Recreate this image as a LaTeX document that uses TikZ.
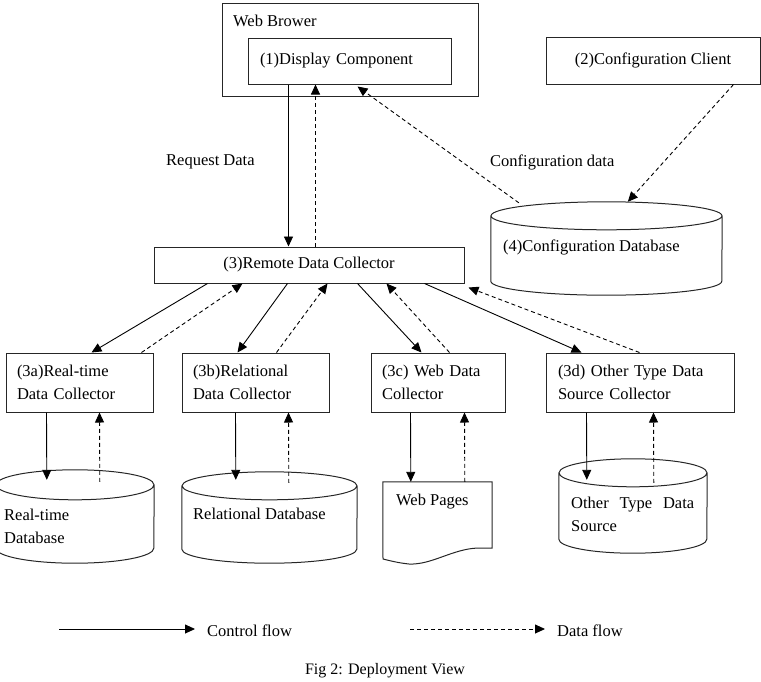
\documentclass[tikz,border=0pt]{standalone}
\usepackage{fontspec}
\setmainfont{Liberation Serif}
\usetikzlibrary{arrows.meta}
\newcommand\cylshape[3]{% node name, x radius, y radius
  \draw[cylline] ([yshift=-#3]#1.north) ellipse[x radius=#2, y radius=#3]
    ([yshift=-#3]#1.north west) -- ([yshift=#3]#1.south west)
    arc[start angle=180, end angle=360, x radius=#2, y radius=#3]
    -- ([yshift=-#3]#1.north east);}
\begin{document}
\begin{tikzpicture}[x=1pt,y=-1pt,
  every node/.style={font=\fontsize{16.5}{23}\selectfont},
  box/.style={draw=black!85, line width=1pt, rectangle, inner ysep=0pt},
  lbox/.style={box, align=left, inner xsep=#1},
  cylline/.style={draw=black!85, line width=1pt},
  holder/.style={inner sep=0pt, rectangle},
  lbl/.style={inner sep=0pt, anchor=west, align=left},
  ctrl/.style={line width=0.9pt, -{Triangle[length=10pt,width=9pt]}},
  dataf/.style={line width=0.9pt, dash pattern=on 4pt off 3pt, -{Triangle[length=10pt,width=9pt]}}]
\useasboundingbox (0,0) rectangle (761,681);

% top boxes
\node[box, minimum width=256pt, minimum height=93pt] (browser) at (350,49.5) {};
\node[lbl] (browsertxt) at (233,21) {Web Brower};
\node[lbox=12pt, text width=179pt, minimum height=46pt] (display) at (349.5,61) {(1)Display Component};
\node[box, align=center, minimum width=214pt, minimum height=47pt] (client) at (653,60.5) {(2)Configuration Client};

% config database
\node[holder, minimum width=231pt, minimum height=93pt] (cfgdb) at (606.5,248.5) {};
\cylshape{cfgdb}{115.5pt}{14pt}
\node[lbl] (cfgdbtxt) at (503,247) {(4)Configuration Database};

\node[lbl] (reqtxt) at (166,162) {Request Data};
\node[lbl] (cfgtxt) at (490,162) {Configuration data};

% remote collector
\node[box, align=center, minimum width=310pt, minimum height=36pt] (remote) at (309,265) {(3)Remote Data Collector};

% collectors
\node[lbox=11pt, text width=125pt, minimum height=59pt] (rtc) at (79.5,382.5) {(3a)Real-time\\Data Collector};
\node[lbox=11pt, text width=125pt, minimum height=59pt] (relc) at (255.5,382.5) {(3b)Relational\\Data Collector};
\node[lbox=11pt, text width=112pt, minimum height=59pt] (webc) at (438,382.5) {\makebox[110pt][s]{(3c) Web Data}\\Collector};
\node[lbox=12pt, text width=164pt, minimum height=59pt] (othc) at (640,382.5) {\makebox[163pt][s]{(3d) Other Type Data}\\Source Collector};

% data sources
\node[holder, minimum width=158pt, minimum height=93pt] (rtdb) at (75,516.5) {};
\cylshape{rtdb}{79pt}{15pt}
\node[lbl] (rtdbtxt) at (4,526) {Real-time\\Database};

\node[holder, minimum width=175pt, minimum height=91pt] (reldb) at (269.5,517.5) {};
\cylshape{reldb}{87.5pt}{14pt}
\node[lbl] (reldbtxt) at (193,514) {Relational Database};

\node[holder, minimum width=109pt, minimum height=82pt] (webpg) at (437.5,523) {};
\draw[cylline] (webpg.north west) -- (webpg.north east) -- (492,548) -- (478,548)
  .. controls (452,549) and (432,565) .. (409,564)
  .. controls (399,563) and (391,561) .. (383,559) -- cycle;
\node[lbl] (webpgtxt) at (396,502) {Web Pages};

\node[holder, minimum width=148pt, minimum height=94pt] (othdb) at (633,506) {};
\cylshape{othdb}{74pt}{14pt}
\node[lbl] (othdbtxt) at (571,514.5) {\makebox[123pt][s]{Other Type Data}\\Source};

% top connectors
\draw[ctrl] ([xshift=41pt]display.south west) -- ([xshift=135pt]remote.north west);
\draw[dataf] ([xshift=162pt]remote.north west) -- ([xshift=68pt]display.south west);
\draw[dataf] ([xshift=28pt,yshift=-1pt]cfgdb.north west) -- ([xshift=110pt,yshift=-2pt]display.south west);
\draw[dataf] ([xshift=188pt]client.south west) -- ([xshift=137pt]cfgdb.north west);

% remote to collectors
\draw[ctrl] ([xshift=54pt]remote.south west) -- ([xshift=86pt]rtc.north west);
\draw[dataf] ([xshift=136pt]rtc.north west) -- ([xshift=89pt]remote.south west);
\draw[ctrl] ([xshift=134pt]remote.south west) -- ([xshift=56pt]relc.north west);
\draw[dataf] ([xshift=95pt]relc.north west) -- ([xshift=174pt]remote.south west);
\draw[ctrl] ([xshift=204pt]remote.south west) -- ([xshift=51pt]webc.north west);
\draw[dataf] ([xshift=79pt]webc.north west) -- ([xshift=233pt]remote.south west);
\draw[ctrl] ([xshift=271pt]remote.south west) -- ([xshift=36pt]othc.north west);
\draw[dataf] ([xshift=94pt]othc.north west) -- ([xshift=4pt,yshift=-4pt]remote.south east);

% collectors to sources
\draw[ctrl] ([xshift=41pt]rtc.south west) -- ([xshift=51pt,yshift=-10pt]rtdb.north west);
\draw[dataf] ([xshift=104pt,yshift=-12pt]rtdb.north west) -- ([xshift=94pt]rtc.south west);
\draw[ctrl] ([xshift=54pt]relc.south west) -- ([xshift=54pt,yshift=-8pt]reldb.north west);
\draw[dataf] ([xshift=107pt,yshift=-11pt]reldb.north west) -- ([xshift=107pt]relc.south west);
\draw[ctrl] ([xshift=40pt]webc.south west) -- ([xshift=28pt]webpg.north west);
\draw[dataf] ([xshift=82pt]webpg.north west) -- ([xshift=94pt]webc.south west);
\draw[ctrl] ([xshift=41pt]othc.south west) -- ([xshift=28pt,yshift=-21pt]othdb.north west);
\draw[dataf] ([xshift=95pt,yshift=-24pt]othdb.north west) -- ([xshift=108pt]othc.south west);

% legend
\coordinate (c1) at (59,629);
\coordinate (c2) at (195,629);
\coordinate (d1) at (410,629);
\coordinate (d2) at (545,629);
\draw[ctrl] (c1) -- (c2);
\draw[dataf] (d1) -- (d2);
\node[lbl] (ctrltxt) at (207,631) {Control flow};
\node[lbl] (datatxt) at (557,631) {Data flow};
\node[inner sep=0pt, font=\fontsize{16}{20}\selectfont] (caption) at (385,671) {Fig 2: Deployment View};
\end{tikzpicture}
\end{document}
